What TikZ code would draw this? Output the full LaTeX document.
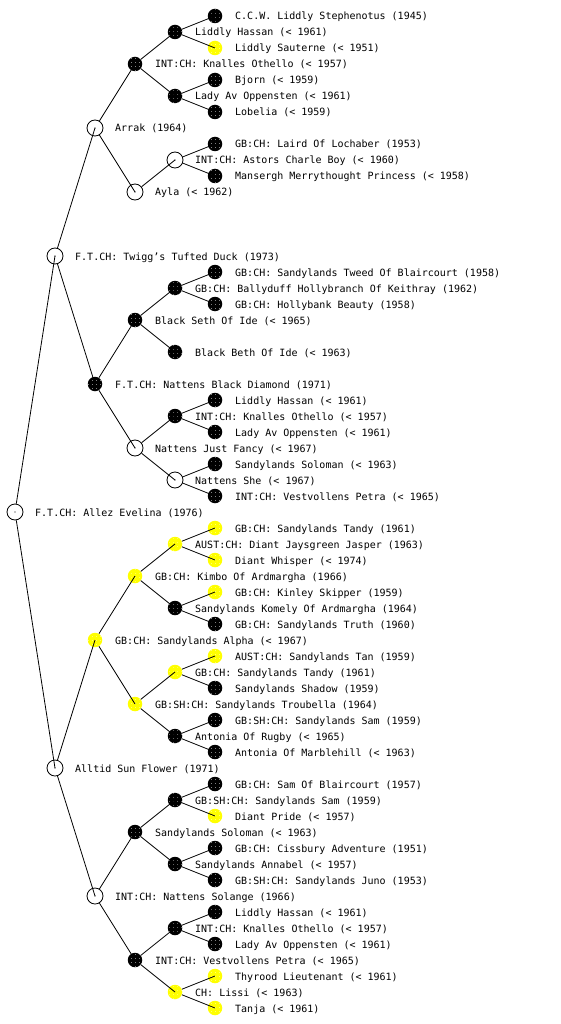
\documentclass[tikz,border=0pt]{standalone}
\usepackage{fontspec}
\newfontfamily\pedmono{DejaVu Sans Mono}
\usetikzlibrary{patterns.meta}
\tikzdeclarepattern{
  name=speck,
  type=uncolored,
  bounding box={(0pt,0pt) and (3.5pt,3.5pt)},
  tile size={(3.5pt,3.5pt)},
  code={\fill (1.75pt,1.75pt) circle (0.45pt);}
}
\definecolor{pedyellow}{RGB}{255,255,0}
\tikzset{
  openn/.style={circle,draw=black,fill=white,line width=0.8pt,minimum size=16pt,inner sep=0pt},
  blackn/.style={circle,fill=black,minimum size=14.5pt,inner sep=0pt,
    postaction={pattern={speck},pattern color=white!70!black}},
  yelln/.style={circle,fill=pedyellow,minimum size=14.5pt,inner sep=0pt,
    postaction={pattern={speck},pattern color=white!60!pedyellow}},
  lab/.style={anchor=base west,inner sep=0pt,font=\pedmono\fontsize{10pt}{12pt}\selectfont},
  link/.style={draw=black,line width=0.8pt},
  cdot/.style={circle,fill=black,inner sep=0pt,minimum size=1.4pt}
}
\newcommand\pnode[5]{%
  \node[#4] (#1) at ({15+40*#2},#3) {};
  \node[lab] (#1t) at ({35+40*#2},{#3+4}) {#5};
}
\begin{document}
\begin{tikzpicture}[x=1pt,y=-1pt]
\useasboundingbox (0,0) rectangle (560,1024);
% generation 0
\pnode{a512}{0}{512}{openn}{F.T.CH: Allez Evelina (1976)}
% generation 1
\pnode{b256}{1}{256}{openn}{F.T.CH: Twigg’s Tufted Duck (1973)}
\pnode{b768}{1}{768}{openn}{Alltid Sun Flower (1971)}
% generation 2
\pnode{c128}{2}{128}{openn}{Arrak (1964)}
\pnode{c384}{2}{384}{blackn}{F.T.CH: Nattens Black Diamond (1971)}
\pnode{c640}{2}{640}{yelln}{GB:CH: Sandylands Alpha (< 1967)}
\pnode{c896}{2}{896}{openn}{INT:CH: Nattens Solange (1966)}
% generation 3
\pnode{d64}{3}{64}{blackn}{INT:CH: Knalles Othello (< 1957)}
\pnode{d192}{3}{192}{openn}{Ayla (< 1962)}
\pnode{d320}{3}{320}{blackn}{Black Seth Of Ide (< 1965)}
\pnode{d448}{3}{448}{openn}{Nattens Just Fancy (< 1967)}
\pnode{d576}{3}{576}{yelln}{GB:CH: Kimbo Of Ardmargha (1966)}
\pnode{d704}{3}{704}{yelln}{GB:SH:CH: Sandylands Troubella (1964)}
\pnode{d832}{3}{832}{blackn}{Sandylands Soloman (< 1963)}
\pnode{d960}{3}{960}{blackn}{INT:CH: Vestvollens Petra (< 1965)}
% generation 4
\pnode{e32}{4}{32}{blackn}{Liddly Hassan (< 1961)}
\pnode{e96}{4}{96}{blackn}{Lady Av Oppensten (< 1961)}
\pnode{e160}{4}{160}{openn}{INT:CH: Astors Charle Boy (< 1960)}
\pnode{e288}{4}{288}{blackn}{GB:CH: Ballyduff Hollybranch Of Keithray (1962)}
\pnode{e352}{4}{352}{blackn}{Black Beth Of Ide (< 1963)}
\pnode{e416}{4}{416}{blackn}{INT:CH: Knalles Othello (< 1957)}
\pnode{e480}{4}{480}{openn}{Nattens She (< 1967)}
\pnode{e544}{4}{544}{yelln}{AUST:CH: Diant Jaysgreen Jasper (1963)}
\pnode{e608}{4}{608}{blackn}{Sandylands Komely Of Ardmargha (1964)}
\pnode{e672}{4}{672}{yelln}{GB:CH: Sandylands Tandy (1961)}
\pnode{e736}{4}{736}{blackn}{Antonia Of Rugby (< 1965)}
\pnode{e800}{4}{800}{blackn}{GB:SH:CH: Sandylands Sam (1959)}
\pnode{e864}{4}{864}{blackn}{Sandylands Annabel (< 1957)}
\pnode{e928}{4}{928}{blackn}{INT:CH: Knalles Othello (< 1957)}
\pnode{e992}{4}{992}{yelln}{CH: Lissi (< 1963)}
% generation 5
\pnode{f16}{5}{16}{blackn}{C.C.W. Liddly Stephenotus (1945)}
\pnode{f48}{5}{48}{yelln}{Liddly Sauterne (< 1951)}
\pnode{f80}{5}{80}{blackn}{Bjorn (< 1959)}
\pnode{f112}{5}{112}{blackn}{Lobelia (< 1959)}
\pnode{f144}{5}{144}{blackn}{GB:CH: Laird Of Lochaber (1953)}
\pnode{f176}{5}{176}{blackn}{Mansergh Merrythought Princess (< 1958)}
\pnode{f272}{5}{272}{blackn}{GB:CH: Sandylands Tweed Of Blaircourt (1958)}
\pnode{f304}{5}{304}{blackn}{GB:CH: Hollybank Beauty (1958)}
\pnode{f400}{5}{400}{blackn}{Liddly Hassan (< 1961)}
\pnode{f432}{5}{432}{blackn}{Lady Av Oppensten (< 1961)}
\pnode{f464}{5}{464}{blackn}{Sandylands Soloman (< 1963)}
\pnode{f496}{5}{496}{blackn}{INT:CH: Vestvollens Petra (< 1965)}
\pnode{f528}{5}{528}{yelln}{GB:CH: Sandylands Tandy (1961)}
\pnode{f560}{5}{560}{yelln}{Diant Whisper (< 1974)}
\pnode{f592}{5}{592}{yelln}{GB:CH: Kinley Skipper (1959)}
\pnode{f624}{5}{624}{blackn}{GB:CH: Sandylands Truth (1960)}
\pnode{f656}{5}{656}{yelln}{AUST:CH: Sandylands Tan (1959)}
\pnode{f688}{5}{688}{blackn}{Sandylands Shadow (1959)}
\pnode{f720}{5}{720}{blackn}{GB:SH:CH: Sandylands Sam (1959)}
\pnode{f752}{5}{752}{blackn}{Antonia Of Marblehill (< 1963)}
\pnode{f784}{5}{784}{blackn}{GB:CH: Sam Of Blaircourt (1957)}
\pnode{f816}{5}{816}{yelln}{Diant Pride (< 1957)}
\pnode{f848}{5}{848}{blackn}{GB:CH: Cissbury Adventure (1951)}
\pnode{f880}{5}{880}{blackn}{GB:SH:CH: Sandylands Juno (1953)}
\pnode{f912}{5}{912}{blackn}{Liddly Hassan (< 1961)}
\pnode{f944}{5}{944}{blackn}{Lady Av Oppensten (< 1961)}
\pnode{f976}{5}{976}{yelln}{Thyrood Lieutenant (< 1961)}
\pnode{f1008}{5}{1008}{yelln}{Tanja (< 1961)}
% centre dots of the open circles
\foreach \n in {a512,b256,b768,c128,c896,d192,d448,e160,e480}
  \node[cdot] at (\n.center) {};
% connectors: from the child's border to the parent's centre
\foreach \c/\p in {a512/b256,a512/b768,
  b256/c128,b256/c384,b768/c640,b768/c896,
  c128/d64,c128/d192,c384/d320,c384/d448,c640/d576,c640/d704,c896/d832,c896/d960,
  d64/e32,d64/e96,d192/e160,d320/e288,d320/e352,d448/e416,d448/e480,
  d576/e544,d576/e608,d704/e672,d704/e736,d832/e800,d832/e864,d960/e928,d960/e992,
  e32/f16,e32/f48,e96/f80,e96/f112,e160/f144,e160/f176,e288/f272,e288/f304,
  e416/f400,e416/f432,e480/f464,e480/f496,e544/f528,e544/f560,e608/f592,e608/f624,
  e672/f656,e672/f688,e736/f720,e736/f752,e800/f784,e800/f816,e864/f848,e864/f880,
  e928/f912,e928/f944,e992/f976,e992/f1008}
  \draw[link] (\c) -- (\p.center);
\end{tikzpicture}
\end{document}
